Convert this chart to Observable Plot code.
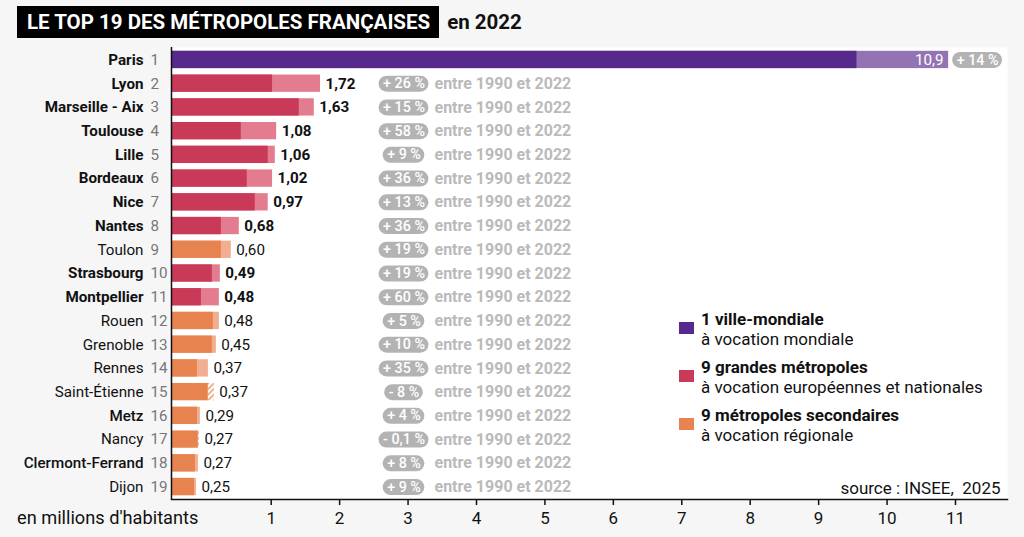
<!DOCTYPE html>
<html>
<head>
<meta charset="utf-8">
<script src="https://cdn.jsdelivr.net/npm/d3@7"></script>
<script src="https://cdn.jsdelivr.net/npm/@observablehq/plot@0.6"></script>
<style>
  html, body { margin: 0; padding: 0; background: #f6f6f6; }
  #wrap { position: relative; width: 1024px; height: 537px; overflow: hidden; font-family: Roboto, "Noto Sans", sans-serif; }
  #title { position: absolute; left: 17px; top: 6px; height: 32px; display: flex; align-items: center; }
  #title .box { background: #000; color: #fff; font-weight: 700; font-size: 20.5px; height: 32px; line-height: 32px; padding: 0 9px 0 10px; }
  #title .yr { color: #111; font-weight: 700; font-size: 20.5px; margin-left: 8px; }
  #chart { position: absolute; left: 0; top: 47px; }
  #legend .item { position: absolute; left: 679px; }
  #legend .sw { position: absolute; left: 0; top: 13px; width: 15px; height: 12px; }
  #legend .txt { position: absolute; left: 22px; white-space: nowrap; font-size: 17px; line-height: 20px; color: #111; }
  #legend .txt b { font-weight: 700; }
  #xlabel { position: absolute; left: 17px; top: 507px; font-size: 18.2px; color: #111; line-height: 22px; }
</style>
</head>
<body>
<div id="wrap">
  <div id="title"><span class="box">LE TOP 19 DES MÉTROPOLES FRANÇAISES</span><span class="yr">en 2022</span></div>
  <div id="chart"></div>
  <div id="legend"></div>
  <div id="xlabel">en millions d'habitants</div>
</div>
<script>
// ---------------- data ----------------
const cities = ["Paris", "Lyon", "Marseille - Aix", "Toulouse", "Lille", "Bordeaux", "Nice", "Nantes", "Toulon",
  "Strasbourg", "Montpellier", "Rouen", "Grenoble", "Rennes", "Saint-Étienne", "Metz", "Nancy", "Clermont-Ferrand", "Dijon"];
const ranks = [1, 2, 3, 4, 5, 6, 7, 8, 9, 10, 11, 12, 13, 14, 15, 16, 17, 18, 19];
const groups = ["mondiale", "grande", "grande", "grande", "grande", "grande", "grande", "grande", "secondaire",
  "grande", "grande", "secondaire", "secondaire", "secondaire", "secondaire", "secondaire", "secondaire", "secondaire", "secondaire"];
const pop2022 = [10.9, 1.72, 1.63, 1.08, 1.06, 1.02, 0.97, 0.68, 0.60, 0.49, 0.48, 0.48, 0.45, 0.37, 0.37, 0.29, 0.27, 0.27, 0.25];
const pop1990 = [9.56, 1.02, 1.41, 0.70, 0.97, 0.76, 0.84, 0.50, 0.50, 0.41, 0.30, 0.42, 0.41, 0.26, 0.43, 0.26, 0.28, 0.24, 0.23];
const growthLabels = ["+ 14 %", "+ 26 %", "+ 15 %", "+ 58 %", "+ 9 %", "+ 36 %", "+ 13 %", "+ 36 %", "+ 19 %", "+ 19 %",
  "+ 60 %", "+ 5 %", "+ 10 %", "+ 35 %", "- 8 %", "+ 4 %", "- 0,1 %", "+ 8 %", "+ 9 %"];
const xTicks = [1, 2, 3, 4, 5, 6, 7, 8, 9, 10, 11];
const periodNote = "entre 1990 et 2022";
const sourceNote = "source : INSEE,\u00a0 2025";
const legendItems = [
  {group: "mondiale", title: "1 ville-mondiale", sub: "à vocation mondiale"},
  {group: "grande", title: "9 grandes métropoles", sub: "à vocation européennes et nationales"},
  {group: "secondaire", title: "9 métropoles secondaires", sub: "à vocation régionale"}
];

// ---------------- styles & layout ----------------
const darkColor = {mondiale: "#56298a", grande: "#c93a59", secondaire: "#e7834f"};
const lightColor = {mondiale: "#9473b3", grande: "#e37c8f", secondaire: "#f2af90"};
const mediumNames = new Set(["Clermont-Ferrand", "Metz"]);
const X_DOMAIN = [0, 1, 11];
const X_RANGE = [171, 270.7, 955];
const xs = d3.scaleLinear().domain(X_DOMAIN).range(X_RANGE);
const BADGE_CX = 403.5, ENTRE_PX = 434, BADGE_FS = 14.3, BADGE_FONT = "500 14.3px Roboto";
const FS = 15.2;

const ctx = document.createElement("canvas").getContext("2d");
ctx.font = BADGE_FONT;

const rows = cities.map((c, i) => ({city: c, rank: ranks[i], group: groups[i], v22: pop2022[i], v90: pop1990[i], g: growthLabels[i]}));
rows.forEach(d => {
  const w = ctx.measureText(d.g).width + 8;
  const cx = d.group === "mondiale" ? xs(d.v22) + 4 + w / 2 : BADGE_CX;
  d.bx = xs.invert(cx);
  d.bx1 = xs.invert(cx - w / 2 + 8);
  d.bx2 = xs.invert(cx + w / 2 - 8);
});
const fmt = v => (v >= 10 ? v.toFixed(1) : v.toFixed(2)).replace(".", ",");
const isBold = d => d.group !== "secondaire";

const hatchDefs = () => {
  const g = d3.create("svg:g");
  const p = g.append("defs").append("pattern")
    .attr("id", "hatch").attr("patternUnits", "userSpaceOnUse")
    .attr("width", 4).attr("height", 4).attr("patternTransform", "rotate(45)");
  p.append("rect").attr("width", 4).attr("height", 4).attr("fill", "#fff");
  p.append("rect").attr("width", 2).attr("height", 4).attr("fill", lightColor.secondaire);
  return g.node();
};

const others = rows.filter(d => d.group !== "mondiale");

const chart = Plot.plot({
  width: 1024,
  height: 490,
  marginTop: 0,
  marginBottom: 38,
  marginLeft: 171,
  marginRight: 17,
  style: {background: "transparent", fontFamily: "Roboto, sans-serif", fontSize: "15px", color: "#111", overflow: "visible"},
  x: {type: "linear", domain: X_DOMAIN, range: X_RANGE, axis: null},
  y: {type: "band", domain: cities, paddingInner: 0.27, paddingOuter: 0.16, round: false, axis: null},
  color: {type: "identity"},
  marks: [
    hatchDefs,
    Plot.frame({fill: "white", stroke: null}),
    // 2022 (light) part where population grew
    Plot.barX(rows.filter(d => d.v22 > d.v90), {y: "city", x1: 0, x2: "v22", fill: d => lightColor[d.group]}),
    // 1990 part (or 2022 when it declined)
    Plot.barX(rows, {y: "city", x1: 0, x2: d => Math.min(d.v22, d.v90), fill: d => darkColor[d.group]}),
    // decline hatched
    Plot.barX(rows.filter(d => d.v90 > d.v22), {y: "city", x1: "v22", x2: "v90", fill: "url(#hatch)"}),
    // value labels
    Plot.text(rows.filter(d => d.group === "mondiale"), {y: "city", x: "v22", text: d => fmt(d.v22), textAnchor: "end", dx: -5, fill: "white", fontSize: FS}),
    Plot.text(others.filter(isBold), {y: "city", x: d => Math.max(d.v22, d.v90), text: d => fmt(d.v22), textAnchor: "start", dx: 5, fontWeight: "bold", fontSize: FS, fill: "#111"}),
    Plot.text(others.filter(d => !isBold(d)), {y: "city", x: d => Math.max(d.v22, d.v90), text: d => fmt(d.v22), textAnchor: "start", dx: 5, fontSize: FS, fill: "#111"}),
    // growth badges
    Plot.ruleY(rows, {y: "city", x1: "bx1", x2: "bx2", stroke: "#b3b3b3", strokeWidth: 16, strokeLinecap: "round"}),
    Plot.text(rows, {y: "city", x: "bx", text: "g", fill: "white", fontWeight: 500, fontSize: BADGE_FS}),
    Plot.text(others, {y: "city", x: () => xs.invert(ENTRE_PX), text: () => periodNote, textAnchor: "start", fill: "#bababa", fontWeight: "bold", fontSize: 16}),
    // city names & ranks
    Plot.text(rows.filter(isBold), {y: "city", text: "city", frameAnchor: "left", textAnchor: "end", dx: -28, fontWeight: "bold", fontSize: FS, fill: "#111"}),
    Plot.text(rows.filter(d => mediumNames.has(d.city)), {y: "city", text: "city", frameAnchor: "left", textAnchor: "end", dx: -28, fontWeight: 500, fontSize: FS, fill: "#111"}),
    Plot.text(rows.filter(d => !isBold(d) && !mediumNames.has(d.city)), {y: "city", text: "city", frameAnchor: "left", textAnchor: "end", dx: -28, fontSize: FS, fill: "#111"}),
    Plot.text(rows, {y: "city", text: "rank", frameAnchor: "left", textAnchor: "start", dx: -21, fontSize: FS, fill: "#777"}),
    // source
    Plot.text([sourceNote], {frameAnchor: "bottom-right", textAnchor: "end", lineAnchor: "bottom", dx: -7, dy: -6, fontSize: 17, fill: "#111"}),
    // axes lines
    Plot.ruleX([0], {stroke: "#111", strokeWidth: 1.5}),
    Plot.frame({anchor: "bottom", stroke: "#111", strokeWidth: 1.5}),
    Plot.axisX({ticks: xTicks, tickFormat: d => String(d), tickSize: 6, tickPadding: 6, fontSize: 17, stroke: "#111", fill: "#111", strokeWidth: 1.5})
  ]
});
document.getElementById("chart").appendChild(chart);

// legend
const legend = d3.select("#legend");
legendItems.forEach((it, i) => {
  const item = legend.append("div").attr("class", "item").style("top", (309 + i * 48) + "px");
  item.append("div").attr("class", "sw").style("background", darkColor[it.group]);
  const t = item.append("div").attr("class", "txt");
  t.append("b").text(it.title);
  t.append("br");
  t.append("span").text(it.sub);
});
</script>
</body>
</html>
